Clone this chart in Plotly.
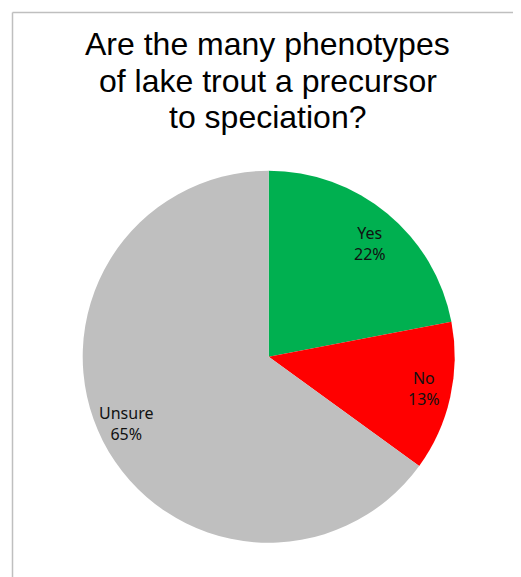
import math
import plotly.graph_objects as go

labels = ["Yes", "No", "Unsure"]
values = [22, 13, 65]
colors = ["#00B050", "#FF0000", "#BFBFBF"]
title_lines = ["Are the many phenotypes", "of lake trout a precursor", "to speciation?"]

W, H = 521, 577
# page body has an 8px offset; positions below are in figure pixels
cx, cy, r = 260.7, 348.7, 186

fig = go.Figure(go.Pie(
    labels=labels,
    values=values,
    marker=dict(colors=colors, line=dict(width=0)),
    sort=False,
    direction="clockwise",
    rotation=0,
    textinfo="none",
    showlegend=False,
    hoverinfo="label+percent",
    domain=dict(x=[(cx - r) / W, (cx + r) / W], y=[(H - cy - r) / H, (H - cy + r) / H]),
))

annotations = []
# title, one line per annotation
for i, line in enumerate(title_lines):
    mid_y = 36 + i * 36.7
    annotations.append(dict(
        text=line, xref="paper", yref="paper",
        x=259.5 / W, y=1 - mid_y / H, xanchor="center", yanchor="middle",
        showarrow=False,
        font=dict(family="Liberation Sans, Arial", size=32, color="#000000"),
    ))

# data labels placed along each slice's mid-angle
total = sum(values)
cum = 0
for lab, v in zip(labels, values):
    mid = (cum + v / 2) / total * 2 * math.pi
    cum += v
    px = cx + 0.84 * 190 * math.sin(mid)
    py = cy - 0.84 * 175 * math.cos(mid)
    pct = round(100 * v / total)
    annotations.append(dict(
        text=f"{lab}<br>{pct}%", xref="paper", yref="paper",
        x=px / W, y=1 - py / H, xanchor="center", yanchor="middle",
        showarrow=False, align="center",
        font=dict(family="Noto Sans", size=16, color="#111111"),
    ))

border = dict(color="#BFBFBF", width=1.5)
fig.update_layout(
    width=W, height=H,
    margin=dict(l=0, r=0, t=0, b=0),
    paper_bgcolor="white",
    plot_bgcolor="white",
    annotations=annotations,
    shapes=[
        dict(type="line", xref="paper", yref="paper",
             x0=4.5 / W, x1=1, y0=1 - 4.5 / H, y1=1 - 4.5 / H, line=border, layer="below"),
        dict(type="line", xref="paper", yref="paper",
             x0=4.5 / W, x1=4.5 / W, y0=0, y1=1 - 4.5 / H, line=border, layer="below"),
    ],
)

fig.write_html("out.html")
